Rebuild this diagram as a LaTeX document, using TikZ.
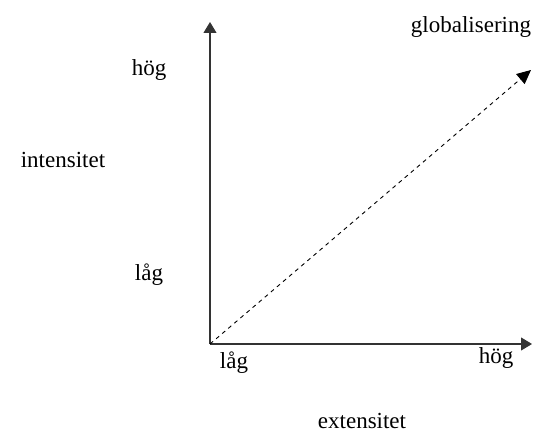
\documentclass[tikz,border=0pt]{standalone}
\usepackage{fontspec}
\setmainfont{Liberation Serif}
\usetikzlibrary{arrows.meta}
\begin{document}
\begin{tikzpicture}[x=1pt,y=-1pt,
  lbl/.style={font=\fontsize{23}{26}\selectfont, inner sep=0pt, anchor=base},
  axis/.style={line width=1.1pt, draw=black!80, -{Triangle[length=11pt,width=13pt]}},
  dasharrow/.style={line width=0.9pt, dash pattern=on 4pt off 4pt, -{Triangle[length=14pt,width=13pt]}}]
\useasboundingbox (0,0) rectangle (544,433);
\coordinate (O) at (210,344);
\coordinate (Ytop) at (210,22);
\coordinate (Xend) at (532,344);
\coordinate (Dend) at (531,70);
\draw[axis] (O) -- (Ytop);
\draw[axis] (O) -- (Xend);
\draw[dasharrow] (O) -- (Dend);
\node[lbl] (glob) at (471,33) {globalisering};
\node[lbl] (yhigh) at (149,76) {hög};
\node[lbl] (int) at (63,168) {intensitet};
\node[lbl] (ylow) at (149,280) {låg};
\node[lbl] (xlow) at (234,368) {låg};
\node[lbl] (xhigh) at (496,363) {hög};
\node[lbl] (ext) at (362,428) {extensitet};
\end{tikzpicture}
\end{document}
